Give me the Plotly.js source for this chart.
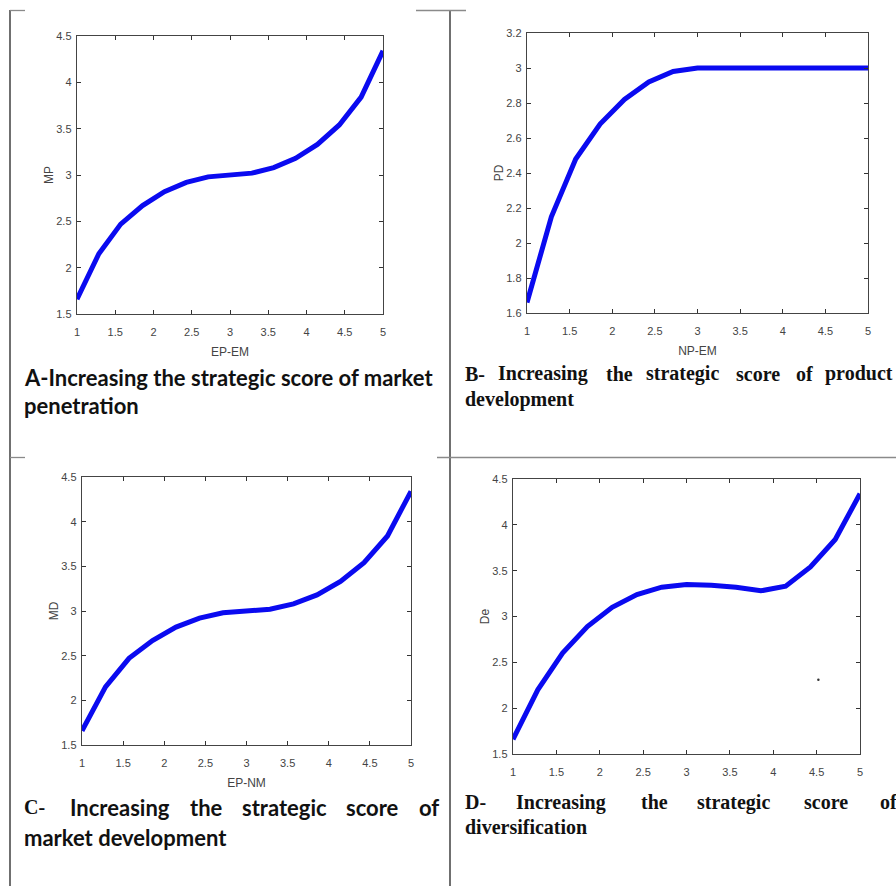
<!DOCTYPE html>
<html>
<head>
<meta charset="utf-8">
<script src="https://cdn.plot.ly/plotly-3.0.1.min.js"></script>
<style>html,body{margin:0;padding:0;background:#fff;}#chart{width:896px;height:886px;}</style>
</head>
<body>
<div id="chart"></div>
<script>
// ---- data ----
const scoreX = [1, 1.2857, 1.5714, 1.8571, 2.1429, 2.4286, 2.7143, 3, 3.2857, 3.5714, 3.8571, 4.1429, 4.4286, 4.7143, 5];
const mpValues = [1.66, 2.15, 2.47, 2.67, 2.82, 2.92, 2.98, 3.00, 3.02, 3.08, 3.18, 3.33, 3.54, 3.84, 4.34];
const pdValues = [1.66, 2.15, 2.48, 2.68, 2.82, 2.92, 2.98, 3.00, 3.00, 3.00, 3.00, 3.00, 3.00, 3.00, 3.00];
const mdValues = [1.66, 2.15, 2.47, 2.67, 2.82, 2.92, 2.98, 3.00, 3.02, 3.08, 3.18, 3.33, 3.54, 3.84, 4.34];
const deValues = [1.66, 2.20, 2.60, 2.89, 3.10, 3.24, 3.32, 3.35, 3.34, 3.32, 3.28, 3.33, 3.54, 3.84, 4.34];
const strayX = [4.52];
const strayY = [2.31];

const xTitles = ["EP-EM", "NP-EM", "EP-NM", ""];
const yTitles = ["MP", "PD", "MD", "De"];
const yRanges = [[1.5, 4.5], [1.6, 3.2], [1.5, 4.5], [1.5, 4.5]];
const yDtick = [0.5, 0.2, 0.5, 0.5];

// ---- layout geometry (pixels) ----
const W = 896, H = 886;
const boxes = [
  {l: 77, r: 383, t: 36, b: 314},
  {l: 527, r: 868, t: 33, b: 313},
  {l: 82, r: 411, t: 477, b: 745},
  {l: 513, r: 860, t: 479, b: 754}
];
const px = v => v / W;
const py = v => 1 - v / H;

const seriesList = [mpValues, pdValues, mdValues, deValues];
const traces = seriesList.map((vals, i) => ({
  x: scoreX, y: vals, type: 'scatter', mode: 'lines',
  xaxis: i === 0 ? 'x' : 'x' + (i + 1),
  yaxis: i === 0 ? 'y' : 'y' + (i + 1),
  line: {color: 'rgb(10,10,240)', width: 5},
  showlegend: false, hoverinfo: 'skip', cliponaxis: true
}));
traces.push({x: strayX, y: strayY, type: 'scatter', mode: 'markers', xaxis: 'x4', yaxis: 'y4',
  marker: {color: '#333', size: 2.5}, showlegend: false, hoverinfo: 'skip'});

const tickFont = {family: 'Liberation Sans, Arial, sans-serif', size: 11, color: '#444'};
const titleFont = {family: 'Liberation Sans, Arial, sans-serif', size: 12, color: '#444'};

const layout = {
  width: W, height: H,
  margin: {l: 0, r: 0, t: 0, b: 0},
  paper_bgcolor: '#fff', plot_bgcolor: '#fff',
  showlegend: false,
  annotations: [], shapes: []
};

boxes.forEach((b, i) => {
  const sx = i === 0 ? '' : String(i + 1);
  layout['xaxis' + sx] = {
    domain: [px(b.l), px(b.r)], anchor: 'y' + sx,
    range: [1, 5], dtick: 0.5, tick0: 1, tickangle: 0,
    ticks: 'inside', ticklen: 4, tickcolor: '#333', tickwidth: 1,
    showline: true, linecolor: '#444', linewidth: 1.3, mirror: 'ticks',
    showgrid: false, zeroline: false, tickfont: tickFont,
    ticklabelstandoff: 7,
    title: {text: xTitles[i], font: titleFont, standoff: 11}
  };
  layout['yaxis' + sx] = {
    domain: [py(b.b), py(b.t)], anchor: 'x' + sx,
    range: yRanges[i], dtick: yDtick[i], tick0: yRanges[i][0],
    ticks: 'inside', ticklen: 4, tickcolor: '#333', tickwidth: 1,
    showline: true, linecolor: '#444', linewidth: 1.3, mirror: 'ticks',
    showgrid: false, zeroline: false, tickfont: tickFont,
    ticklabelstandoff: 2,
    title: {text: yTitles[i], font: titleFont, standoff: 0}
  };
});

// ---- frame lines ----
const dark = {color: '#222', width: 1.3};
const grey = {color: '#8a8a8a', width: 1.3};
function seg(x0, y0, x1, y1, line) {
  layout.shapes.push({type: 'line', xref: 'paper', yref: 'paper', x0: px(x0), y0: py(y0), x1: px(x1), y1: py(y1), line: line});
}
seg(10, 10, 10, 886, dark);
seg(450, 10, 450, 886, dark);
seg(10, 10.5, 25, 10.5, grey);
seg(416, 10.5, 466, 10.5, grey);
seg(10, 457.5, 25, 457.5, grey);
seg(437, 457.5, 896, 457.5, grey);

// ---- captions ----
const calibri = {family: 'Lato, Carlito, Calibri, sans-serif', size: 22, color: '#111', weight: 700};
const times = {family: 'Liberation Serif, Times New Roman, serif', size: 20, color: '#111', weight: 700};
function txt(s, x, y, font) {
  layout.annotations.push({text: s, xref: 'paper', yref: 'paper', x: px(x), y: py(y),
    xanchor: 'left', yanchor: 'middle', showarrow: false, font: font});
}
txt('A-Increasing the strategic score of market', 22, 377, calibri);
txt('penetration', 22, 405, calibri);

const bWords = ['B-', 'Increasing', 'the', 'strategic', 'score', 'of', 'product'];
const bPos = [463, 496, 604, 644, 734, 794, 823];
bWords.forEach((w, k) => txt(w, bPos[k], 374, times));
txt('development', 463, 399, times);

txt('C-', 22, 807, times);
const cWords = ['Increasing', 'the', 'strategic', 'score', 'of'];
const cPos = [68, 188, 240, 344, 417];
cWords.forEach((w, k) => txt(w, cPos[k], 807, calibri));
txt('market development', 22, 837, calibri);

const dWords = ['D-', 'Increasing', 'the', 'strategic', 'score', 'of'];
const dPos = [463, 514, 639, 695, 802, 878];
dWords.forEach((w, k) => txt(w, dPos[k], 802, times));
txt('diversification', 463, 827, times);

Plotly.newPlot('chart', traces, layout, {staticPlot: true, displayModeBar: false});
</script>
</body>
</html>
